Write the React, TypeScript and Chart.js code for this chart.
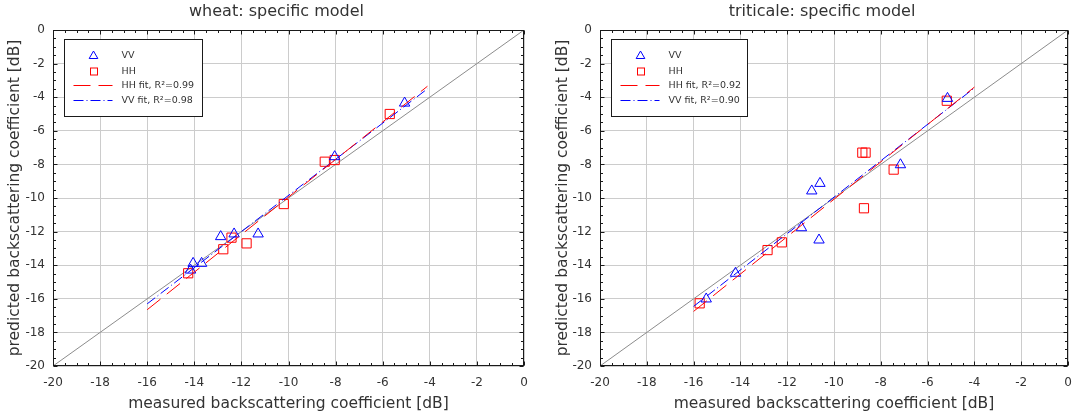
import React, { useEffect, useRef } from 'react';
import { Chart, registerables } from 'chart.js';

Chart.register(...registerables);

// ---------- data ----------
const axisMin = -20;
const axisMax = 0;
const majorStep = 2;
const minorStep = 0.5;

const wheatVVMeasured = [-5.07, -8.04, -11.29, -12.31, -12.88, -13.69, -14.05, -14.16];
const wheatVVPredicted = [-4.35, -7.54, -12.14, -12.14, -12.3, -13.89, -13.89, -14.29];
const wheatHHMeasured = [-5.7, -8.04, -8.46, -10.2, -11.78, -12.42, -12.77, -14.26];
const wheatHHPredicted = [-5.0, -7.74, -7.84, -10.36, -12.7, -12.36, -13.05, -14.48];
const wheatHHFitX = [-16, -4.1];
const wheatHHFitY = [-16.65, -3.35];
const wheatVVFitX = [-16, -4.1];
const wheatVVFitY = [-16.3, -3.5];

const triticaleVVMeasured = [-5.15, -7.16, -10.6, -10.95, -10.64, -11.39, -14.21, -15.46];
const triticaleVVPredicted = [-4.07, -8.02, -9.13, -9.58, -12.5, -11.77, -14.48, -16.01];
const triticaleHHMeasured = [-5.18, -7.45, -8.65, -8.79, -8.72, -12.23, -12.84, -15.74];
const triticaleHHPredicted = [-4.21, -8.31, -7.3, -7.3, -10.61, -12.64, -13.1, -16.27];
const triticaleHHFitX = [-16, -4];
const triticaleHHFitY = [-16.75, -3.4];
const triticaleVVFitX = [-16, -4];
const triticaleVVFitY = [-16.45, -3.45];

const identityX = [-20, 0];
const identityY = [-20, 0];

const wheatLegend = ['VV', 'HH', 'HH fit, R²=0.99', 'VV fit, R²=0.98'];
const triticaleLegend = ['VV', 'HH', 'HH fit, R²=0.92', 'VV fit, R²=0.90'];

// ---------- styles ----------
const FONT = "'DejaVu Sans', sans-serif";
const TEXT = '#333333';
const FRAME = '#1a1a1a';
const GRID = '#cccccc';
const BLUE = '#0000ff';
const RED = '#ff0000';
const HH_DASH = [17, 8];
const VV_DASH = [10, 3, 1, 3];

const pts = (xs: number[], ys: number[]) => xs.map((x, i) => ({ x, y: ys[i] }));

function drawTriangle(ctx: CanvasRenderingContext2D, x: number, y: number, r: number) {
  ctx.beginPath();
  for (let k = 0; k < 3; k++) {
    const a = -Math.PI / 2 + (k * 2 * Math.PI) / 3;
    const px = x + Math.cos(a) * r;
    const py = y + Math.sin(a) * r;
    if (k === 0) ctx.moveTo(px, py);
    else ctx.lineTo(px, py);
  }
  ctx.closePath();
  ctx.stroke();
}

const decorPlugin = {
  id: 'decor',
  afterDatasetsDraw(chart: any, _args: any, opts: any) {
    const { ctx, chartArea: a, scales } = chart;
    const xs = scales.x;
    const ys = scales.y;
    ctx.save();

    // legend box
    const bx = Math.round(a.left) + 11.5;
    const by = Math.round(a.top) + 9.5;
    const bw = opts.boxWidth;
    const bh = 77;
    ctx.fillStyle = '#ffffff';
    ctx.fillRect(bx, by, bw, bh);
    ctx.strokeStyle = FRAME;
    ctx.lineWidth = 1;
    ctx.setLineDash([]);
    ctx.strokeRect(bx, by, bw, bh);

    const mx = bx + 29;
    const rows = [16, 32, 46, 61];
    ctx.lineWidth = 1;
    ctx.strokeStyle = BLUE;
    drawTriangle(ctx, mx, by + rows[0] + 0.5, 5);
    ctx.strokeStyle = RED;
    ctx.strokeRect(Math.round(mx - 3.5) + 0.5, Math.round(by + rows[1] - 3.5), 7, 7);
    ctx.beginPath();
    ctx.setLineDash(HH_DASH);
    ctx.moveTo(bx + 9, by + rows[2]);
    ctx.lineTo(bx + 48, by + rows[2]);
    ctx.stroke();
    ctx.beginPath();
    ctx.strokeStyle = BLUE;
    ctx.setLineDash(VV_DASH);
    ctx.moveTo(bx + 9, by + rows[3]);
    ctx.lineTo(bx + 48, by + rows[3]);
    ctx.stroke();
    ctx.setLineDash([]);
    ctx.fillStyle = TEXT;
    ctx.font = `9.5px ${FONT}`;
    ctx.textBaseline = 'middle';
    ctx.textAlign = 'left';
    opts.labels.forEach((t: string, i: number) => {
      ctx.fillText(t, bx + 57, by + rows[i]);
    });

    // frame
    ctx.strokeStyle = FRAME;
    ctx.lineWidth = 1;
    const L = Math.round(a.left) + 0.5;
    const R = Math.round(a.right) - 0.5;
    const T = Math.round(a.top) + 0.5;
    const B = Math.round(a.bottom) - 0.5;
    ctx.strokeRect(L, T, R - L, B - T);

    // major/minor tick marks on all sides (inward)
    ctx.beginPath();
    const n = Math.round((axisMax - axisMin) / minorStep);
    for (let k = 0; k <= n; k++) {
      const v = axisMin + k * minorStep;
      const major = Math.abs(v / majorStep - Math.round(v / majorStep)) < 1e-6;
      const len = major ? 4 : 2.5;
      const px = Math.round(xs.getPixelForValue(v)) + 0.5;
      ctx.moveTo(px, B);
      ctx.lineTo(px, B - len);
      ctx.moveTo(px, T);
      ctx.lineTo(px, T + len);
      const py = Math.round(ys.getPixelForValue(v)) + 0.5;
      ctx.moveTo(L, py);
      ctx.lineTo(L + len, py);
      ctx.moveTo(R, py);
      ctx.lineTo(R - len, py);
    }
    ctx.stroke();

    // title
    ctx.fillStyle = TEXT;
    ctx.font = `16px ${FONT}`;
    ctx.textAlign = 'center';
    ctx.textBaseline = 'middle';
    ctx.fillText(opts.title, (a.left + a.right) / 2 - 12, 12);
    ctx.restore();
  },
};

function makeConfig(p: {
  title: string;
  vvM: number[];
  vvP: number[];
  hhM: number[];
  hhP: number[];
  hhFitX: number[];
  hhFitY: number[];
  vvFitX: number[];
  vvFitY: number[];
  legend: string[];
  yWidth: number;
  rightPad: number;
  boxWidth: number;
}): any {
  return {
    type: 'scatter',
    data: {
      datasets: [
        {
          label: 'HH fit',
          data: pts(p.hhFitX, p.hhFitY),
          showLine: true,
          borderColor: RED,
          borderWidth: 1,
          borderDash: HH_DASH,
          pointRadius: 0,
          fill: false,
        },
        {
          label: 'VV fit',
          data: pts(p.vvFitX, p.vvFitY),
          showLine: true,
          borderColor: BLUE,
          borderWidth: 1,
          borderDash: VV_DASH,
          pointRadius: 0,
          fill: false,
        },
        {
          label: 'VV',
          data: pts(p.vvM, p.vvP),
          pointStyle: 'triangle',
          pointRadius: 6,
          pointBorderWidth: 1,
          borderColor: BLUE,
          backgroundColor: 'rgba(0,0,0,0)',
          showLine: false,
        },
        {
          label: 'HH',
          data: pts(p.hhM, p.hhP),
          pointStyle: 'rect',
          pointRadius: 6.5,
          pointBorderWidth: 1,
          borderColor: RED,
          backgroundColor: 'rgba(0,0,0,0)',
          showLine: false,
        },
        {
          label: '1:1',
          data: pts(identityX, identityY),
          showLine: true,
          borderColor: '#8c8c8c',
          borderWidth: 1,
          pointRadius: 0,
          fill: false,
        },
      ],
    },
    options: {
      animation: false,
      responsive: false,
      maintainAspectRatio: false,
      layout: { padding: { top: 30, left: 0, right: p.rightPad, bottom: 0 } },
      plugins: {
        legend: { display: false },
        tooltip: { enabled: false },
        title: { display: false },
        decor: { title: p.title, labels: p.legend, boxWidth: p.boxWidth },
      },
      scales: {
        x: {
          type: 'linear',
          min: axisMin,
          max: axisMax,
          ticks: {
            stepSize: majorStep,
            color: TEXT,
            font: { family: FONT, size: 12 },
            padding: 10,
            maxRotation: 0,
            autoSkip: false,
          },
          grid: { color: GRID, lineWidth: 1, drawTicks: false },
          border: { display: false },
          title: {
            display: true,
            text: 'measured backscattering coefficient [dB]',
            color: TEXT,
            font: { family: FONT, size: 15.5 },
            padding: { top: 0, bottom: 3 },
          },
          afterFit: (s: any) => {
            s.height = 50;
            s.paddingLeft = 0;
            s.paddingRight = 0;
          },
        },
        y: {
          type: 'linear',
          min: axisMin,
          max: axisMax,
          ticks: {
            stepSize: majorStep,
            color: TEXT,
            font: { family: FONT, size: 12 },
            padding: 8,
            autoSkip: false,
          },
          grid: { color: GRID, lineWidth: 1, drawTicks: false },
          border: { display: false },
          title: {
            display: true,
            text: 'predicted backscattering coefficient [dB]',
            color: TEXT,
            font: { family: FONT, size: 15.5 },
            padding: { top: 6, bottom: 0 },
          },
          afterFit: (s: any) => {
            s.width = p.yWidth;
            s.paddingTop = 0;
            s.paddingBottom = 0;
          },
        },
      },
    },
    plugins: [decorPlugin],
  };
}

function Panel({ config, left, width }: { config: any; left: number; width: number }) {
  const ref = useRef<HTMLCanvasElement | null>(null);
  useEffect(() => {
    if (!ref.current) return;
    const chart = new Chart(ref.current, config);
    return () => chart.destroy();
  }, []);
  return (
    <canvas
      ref={ref}
      width={width}
      height={416}
      style={{ position: 'absolute', left, top: 0, width, height: 416 }}
    />
  );
}

export default function App() {
  const wheat = makeConfig({
    title: 'wheat: specific model',
    vvM: wheatVVMeasured,
    vvP: wheatVVPredicted,
    hhM: wheatHHMeasured,
    hhP: wheatHHPredicted,
    hhFitX: wheatHHFitX,
    hhFitY: wheatHHFitY,
    vvFitX: wheatVVFitX,
    vvFitY: wheatVVFitY,
    legend: wheatLegend,
    yWidth: 53,
    rightPad: 16,
    boxWidth: 138,
  });
  const triticale = makeConfig({
    title: 'triticale: specific model',
    vvM: triticaleVVMeasured,
    vvP: triticaleVVPredicted,
    hhM: triticaleHHMeasured,
    hhP: triticaleHHPredicted,
    hhFitX: triticaleHHFitX,
    hhFitY: triticaleHHFitY,
    vvFitX: triticaleVVFitX,
    vvFitY: triticaleVVFitY,
    legend: triticaleLegend,
    yWidth: 52,
    rightPad: 8,
    boxWidth: 136,
  });
  return (
    <div
      style={{
        position: 'fixed',
        left: 0,
        top: 0,
        width: 1076,
        height: 416,
        background: '#ffffff',
        overflow: 'hidden',
      }}
    >
      <Panel config={wheat} left={0} width={540} />
      <Panel config={triticale} left={548} width={528} />
    </div>
  );
}
